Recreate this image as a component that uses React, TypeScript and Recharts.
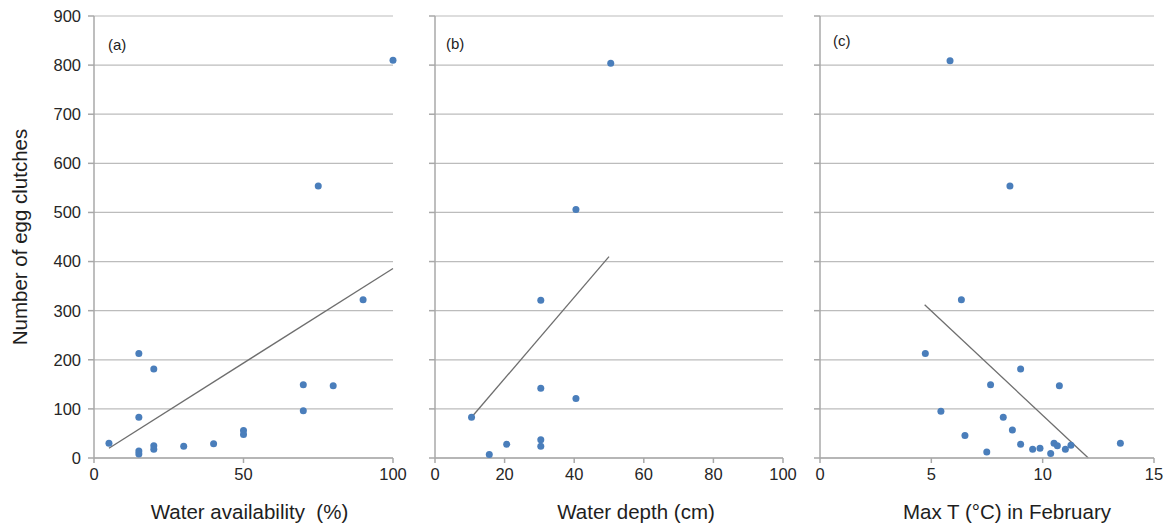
import { ScatterChart, Scatter, XAxis, YAxis, ZAxis, CartesianGrid, ReferenceLine } from "recharts";

// (a) water availability (%) vs clutches
const availX = [5, 15, 20, 15, 15, 15, 20, 20, 30, 40, 50, 50, 70, 70, 80, 75, 90, 100];
const availY = [30, 213, 181, 83, 14, 8, 25, 18, 24, 29, 56, 48, 149, 96, 147, 554, 322, 810];

// (b) water depth (cm) vs clutches
const depthX = [10.5, 15.6, 20.6, 30.4, 30.4, 30.4, 30.4, 40.5, 40.5, 50.5];
const depthY = [83, 7, 28, 37, 24, 142, 321, 121, 506, 804];

// (c) max temperature in February vs clutches
const tempX = [5.84, 8.53, 6.35, 4.73, 9.01, 7.66, 10.75, 5.43, 8.23, 8.64, 6.51, 9.01, 7.49, 9.55, 9.88, 10.36, 10.51, 10.66, 11.02, 11.27, 13.49];
const tempY = [809, 554, 322, 213, 181, 149, 147, 95, 83, 57, 46, 28, 12, 18, 20, 9, 30, 25, 18, 26, 30];

// fitted trend lines, [x1, y1, x2, y2]
const availTrend = [5, 20, 100, 386];
const depthTrend = [10.5, 83, 50, 410];
const tempTrend = [4.7, 312, 12.05, 0];

const yTicks = [0, 100, 200, 300, 400, 500, 600, 700, 800, 900];
const availTicks = [0, 50, 100];
const depthTicks = [0, 20, 40, 60, 80, 100];
const tempTicks = [0, 5, 10, 15];

const FONT = '"Liberation Sans", Arial, sans-serif';
const DOT = "#4a7ebb";
const GRID = "#bcbcbc";
const AXIS = "#a8a8a8";
const TXT = "#262626";

const toPoints = (xs: number[], ys: number[]) => xs.map((x, i) => ({ x, y: ys[i] }));

const dot = (p: any) => <circle cx={p.cx} cy={p.cy} r={3.5} fill={DOT} />;

interface PanelProps {
  left: number;
  width: number;
  rightPad: number;
  yAxisWidth: number;
  xs: number[];
  ys: number[];
  trend: number[];
  xTicks: number[];
  xLabel: string;
  labelDx: number;
  tag: string;
  tagX: number;
  tagY: number;
  showY: boolean;
}

function Panel(props: PanelProps) {
  const { left, width, rightPad, yAxisWidth, xs, ys, trend, xTicks, xLabel, labelDx, tag, tagX, tagY, showY } = props;
  const data = toPoints(xs, ys);
  const xMax = xTicks[xTicks.length - 1];
  return (
    <div style={{ position: "absolute", left, top: 0, width, height: 524 }}>
      <ScatterChart width={width} height={524} margin={{ top: 16, right: rightPad, left: 0, bottom: 0 }}>
        <CartesianGrid vertical={false} stroke={GRID} strokeWidth={1.2} />
        <XAxis
          type="number"
          dataKey="x"
          domain={[0, xMax]}
          ticks={xTicks}
          height={66}
          stroke={AXIS}
          strokeWidth={1.5}
          tickSize={5}
          tickMargin={5}
          tick={{ fill: TXT, fontSize: 16.5, fontFamily: FONT }}
          label={{ value: xLabel, position: "insideBottom", offset: 5, dx: labelDx, fill: "#1e1e1e", fontSize: 20.5, fontFamily: FONT }}
        />
        <YAxis
          type="number"
          dataKey="y"
          domain={[0, 900]}
          ticks={yTicks}
          width={yAxisWidth}
          stroke={AXIS}
          strokeWidth={1.5}
          tickSize={6}
          tickMargin={7}
          tickFormatter={showY ? undefined : () => ""}
          tick={{ fill: TXT, fontSize: 16.5, fontFamily: FONT }}
          label={
            showY
              ? { value: "Number of egg clutches", angle: -90, position: "center", dx: -27, fill: "#1e1e1e", fontSize: 20.5, fontFamily: FONT }
              : undefined
          }
        />
        <ZAxis range={[40, 40]} />
        <ReferenceLine
          segment={[{ x: trend[0], y: trend[1] }, { x: trend[2], y: trend[3] }]}
          stroke="#6e6e6e"
          strokeWidth={1.3}
        />
        <Scatter data={data} shape={dot} isAnimationActive={false} />
      </ScatterChart>
      <div
        style={{
          position: "absolute",
          left: tagX,
          top: tagY,
          fontFamily: FONT,
          fontSize: 15,
          color: "#222",
        }}
      >
        {tag}
      </div>
    </div>
  );
}

export default function App() {
  return (
    <div style={{ position: "absolute", left: 0, top: 0, width: 1165, height: 524, background: "#fff" }}>
      <Panel
        left={0}
        width={420}
        rightPad={27}
        yAxisWidth={94}
        xs={availX}
        ys={availY}
        trend={availTrend}
        xTicks={availTicks}
        xLabel={"Water availability\u00a0 (%)"}
        labelDx={6}
        tag="(a)"
        tagX={108}
        tagY={36}
        showY
      />
      <Panel
        left={420}
        width={390}
        rightPad={27}
        yAxisWidth={15}
        xs={depthX}
        ys={depthY}
        trend={depthTrend}
        xTicks={depthTicks}
        xLabel="Water depth (cm)"
        labelDx={27}
        tag="(b)"
        tagX={26}
        tagY={35}
        showY={false}
      />
      <Panel
        left={810}
        width={355}
        rightPad={11}
        yAxisWidth={10}
        xs={tempX}
        ys={tempY}
        trend={tempTrend}
        xTicks={tempTicks}
        xLabel="Max T (°C) in February"
        labelDx={20}
        tag="(c)"
        tagX={23}
        tagY={32}
        showY={false}
      />
    </div>
  );
}
